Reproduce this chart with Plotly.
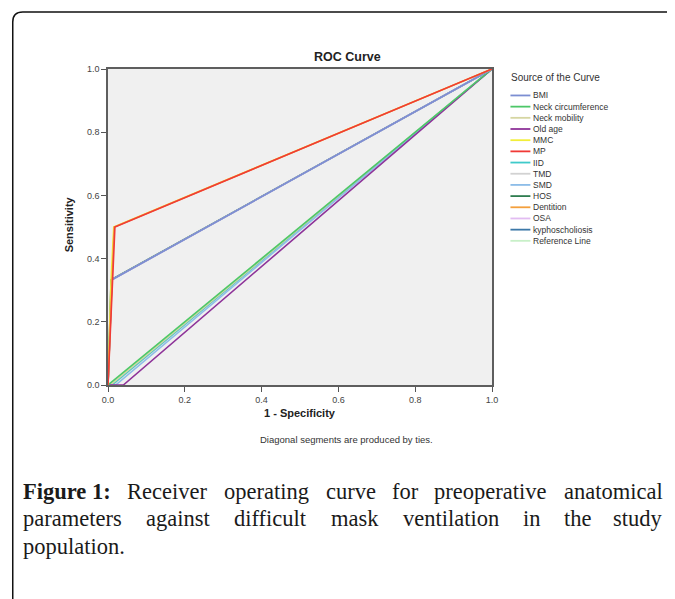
import plotly.graph_objects as go

# ---------------- data ----------------
series_names = ["BMI", "Neck circumference", "Neck mobility", "Old age", "MMC", "MP",
                "IID", "TMD", "SMD", "HOS", "Dentition", "OSA", "kyphoscholiosis",
                "Reference Line"]
series_colors = ["#7C8ED2", "#4DC768", "#D6D6A2", "#8E3399", "#F2EE3A", "#F03A36",
                 "#3FCACA", "#D2D2D2", "#8DBDE8", "#2F7D50", "#F4A03C", "#E2BCF2",
                 "#3C78A8", "#C8F0C8"]

bmi_x = [0, 0.01, 1];            bmi_y = [0, 0.333, 1]
neckcirc_x = [0, 0.0, 1];        neckcirc_y = [0, 0, 1]
neckmob_x = [0, 0.006, 1];       neckmob_y = [0, 0, 1]
oldage_x = [0, 0.04, 1];         oldage_y = [0, 0, 1]
mmc_x = [0, 0.008, 0.015, 1];    mmc_y = [0, 0.333, 0.5, 1]
mp_x = [0, 0.011, 0.018, 1];     mp_y = [0, 0.333, 0.5, 1]
iid_x = [0, 0.01, 1];            iid_y = [0, 0, 1]
tmd_x = [0, 0.012, 1];           tmd_y = [0, 0, 1]
smd_x = [0, 0.02, 1];            smd_y = [0, 0, 1]
hos_x = [0, 0.008, 1];           hos_y = [0, 0.333, 1]
dent_x = [0, 0.016, 1];          dent_y = [0, 0.5, 1]
osa_x = [0, 0.01, 1];            osa_y = [0, 0.333, 1]
kypho_x = [0, 0.01, 1];          kypho_y = [0, 0.333, 1]
ref_x = [0, 1];                  ref_y = [0, 1]

series_x = [bmi_x, neckcirc_x, neckmob_x, oldage_x, mmc_x, mp_x, iid_x, tmd_x,
            smd_x, hos_x, dent_x, osa_x, kypho_x, ref_x]
series_y = [bmi_y, neckcirc_y, neckmob_y, oldage_y, mmc_y, mp_y, iid_y, tmd_y,
            smd_y, hos_y, dent_y, osa_y, kypho_y, ref_y]

tick_vals = [0.0, 0.2, 0.4, 0.6, 0.8, 1.0]
tick_text = ["0.0", "0.2", "0.4", "0.6", "0.8", "1.0"]

caption_line1 = ["<b>Figure 1:</b>", "Receiver", "operating", "curve", "for", "preoperative", "anatomical"]
caption_line2 = ["parameters", "against", "difficult", "mask", "ventilation", "in", "the", "study"]
caption_line3 = ["population."]

# ---------------- layout geometry (reference pixel coords) ----------------
OFF = 8                       # page body margin of the browser
W, H = 675 - OFF, 599 - OFF
PL, PR, PT, PB = 107.5, 492.5, 69.0, 385.5   # plot area pixels in the reference


def px(x):
    return (x - PL) / (PR - PL)


def py(y):
    return (PB - y) / (PB - PT)


fig = go.Figure()

# draw order: diagonals first, then upper curves on top
draw_order = [13, 7, 6, 2, 8, 3, 1, 9, 12, 11, 0, 4, 10, 5]
for i in draw_order:
    fig.add_trace(go.Scatter(
        x=series_x[i], y=series_y[i], mode="lines", name=series_names[i],
        line=dict(color=series_colors[i], width=1.6), showlegend=False,
        hoverinfo="name"))

SANS = "Liberation Sans, Arial, sans-serif"
SERIF = "Liberation Serif, Times New Roman, serif"

axis_common = dict(range=[0, 1], tickvals=tick_vals, ticktext=tick_text,
                   showgrid=False, zeroline=False, showline=True, mirror=True,
                   linecolor="#5e5e5e", linewidth=1.5, ticks="outside",
                   ticklen=5, tickcolor="#555555", tickwidth=1,
                   tickfont=dict(family=SANS, size=9, color="#444444"))

fig.update_layout(
    width=W, height=H,
    margin=dict(l=PL - OFF, r=675 - PR, t=PT - OFF, b=599 - PB),
    paper_bgcolor="white", plot_bgcolor="#F0F0F0",
    xaxis=dict(**axis_common),
    yaxis=dict(**axis_common),
    showlegend=False,
)

annotations = []
shapes = []


def note(text, x, y, size, family=SANS, color="#222222", xanchor="center", angle=0):
    annotations.append(dict(text=text, x=px(x), y=py(y), xref="paper", yref="paper",
                            xanchor=xanchor, yanchor="middle", showarrow=False,
                            textangle=angle, borderpad=0,
                            font=dict(family=family, size=size, color=color)))


# chart title and axis titles
note("<b>ROC Curve</b>", 348, 57, 12.5)
note("<b>Sensitivity</b>", 68, 225, 11, angle=-90)
note("<b>1 - Specificity</b>", 300, 414, 11)
note("Diagonal segments are produced by ties.", 347, 440, 9.5, color="#333333")

# custom compact legend
note("Source of the Curve", 511, 78, 10, color="#333333", xanchor="left")
for i, name in enumerate(series_names):
    yy = 95.5 + i * 11.2
    shapes.append(dict(type="line", xref="paper", yref="paper", x0=px(511), x1=px(531),
                       y0=py(yy), y1=py(yy), line=dict(color=series_colors[i], width=1.8)))
    note(name, 533, yy, 8.5, color="#333333", xanchor="left")

# caption, justified by placing each word
line1_x = [22, 127, 224, 326, 392, 434, 665]
line2_x = [22, 146, 234, 331, 403, 524, 565, 665]
line3_x = [22]
for yy, words, xs in [(492, caption_line1, line1_x), (519.5, caption_line2, line2_x),
                      (547, caption_line3, line3_x)]:
    for k, (w, xx) in enumerate(zip(words, xs)):
        last = (k == len(words) - 1) and len(words) > 1
        note(w, xx - 1 if not last else xx, yy, 22.5, family=SERIF, color="#1a1a1a",
             xanchor="right" if last else "left")

# outer frame with rounded top-left corner
fx, fy = px(12), py(12)
rx, ry = 10 / (PR - PL), 10 / (PB - PT)
fb, fr = py(620), px(700)
shapes.append(dict(type="path", xref="paper", yref="paper",
                   path=f"M {fx},{fb} L {fx},{fy - ry} Q {fx},{fy} {fx + rx},{fy} L {fr},{fy}",
                   line=dict(color="#111111", width=1.5)))

fig.update_layout(annotations=annotations, shapes=shapes)

fig.write_html("out.html")
